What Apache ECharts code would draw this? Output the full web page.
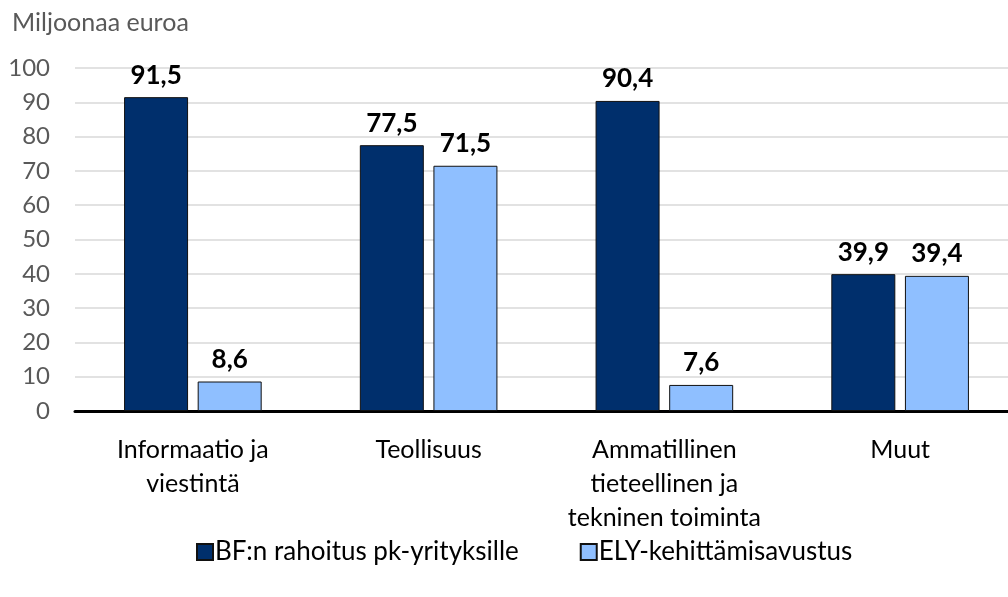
<!DOCTYPE html>
<html>
<head>
<meta charset="utf-8">
<script src="https://cdn.jsdelivr.net/npm/echarts@6/dist/echarts.min.js"></script>
<style>
html, body { margin: 0; padding: 0; background: #fff; overflow: hidden; }
#chart { width: 1018px; height: 597px; }
</style>
</head>
<body>
<div id="chart"></div>
<script>
// toimialat
var categories = ['Informaatio ja\nviestintä', 'Teollisuus', 'Ammatillinen\ntieteellinen ja\ntekninen toiminta', 'Muut'];
var seriesNames = ['BF:n rahoitus pk-yrityksille', 'ELY-kehittämisavustus'];
var bfValues = [91.5, 77.5, 90.4, 39.9];
var elyValues = [8.6, 71.5, 7.6, 39.4];
var yTicks = { min: 0, max: 100, interval: 10 };

var font = 'Lato';

// pilkku desimaalierottimena
function fmt(v) {
	return v.toFixed(1).replace('.', ',');
}

var chart = echarts.init(document.getElementById('chart'));

var barLabel = {
	show: true,
	position: 'top',
	distance: 9,
	color: '#000',
	fontFamily: font,
	fontWeight: 'bold',
	fontSize: 26,
	formatter: function (p) { return fmt(p.value); }
};

chart.setOption({
	animation: false,
	title: {
		text: 'Miljoonaa euroa',
		left: 7,
		top: 5,
		textStyle: { color: '#595959', fontFamily: font, fontWeight: 'normal', fontSize: 25 }
	},
	legend: {
		bottom: 27,
		left: 191,
		icon: 'rect',
		itemWidth: 16,
		itemHeight: 16,
		itemGap: 61,
		textStyle: { color: '#000', fontFamily: font, fontSize: 26, padding: [0, 0, 0, -3] },
		data: seriesNames
	},
	// kaavioalue jatkuu hieman kuvan oikean reunan yli
	grid: { left: 75, top: 68, bottom: 186, right: 0, containLabel: false },
	xAxis: {
		type: 'category',
		data: categories,
		axisLine: { lineStyle: { color: '#000', width: 3 } },
		axisTick: { show: false },
		axisLabel: { interval: 0, color: '#000', fontFamily: font, fontSize: 25, lineHeight: 34, margin: 22 }
	},
	yAxis: {
		type: 'value',
		min: yTicks.min,
		max: yTicks.max,
		interval: yTicks.interval,
		axisLine: { show: false },
		axisTick: { show: false },
		splitLine: { lineStyle: { color: '#d9d9d9', width: 1.5 } },
		axisLabel: { color: '#595959', fontFamily: font, fontSize: 24, margin: 25 }
	},
	series: [{
		name: seriesNames[0],
		type: 'bar',
		data: bfValues,
		barWidth: 64,
		barGap: '15%',
		itemStyle: { color: '#002f6c', borderColor: '#111', borderWidth: 1 },
		label: barLabel
	}, {
		name: seriesNames[1],
		type: 'bar',
		data: elyValues,
		barWidth: 64,
		barGap: '15%',
		itemStyle: { color: '#8fbfff', borderColor: '#111', borderWidth: 1 },
		label: barLabel
	}]
});
</script>
</body>
</html>
